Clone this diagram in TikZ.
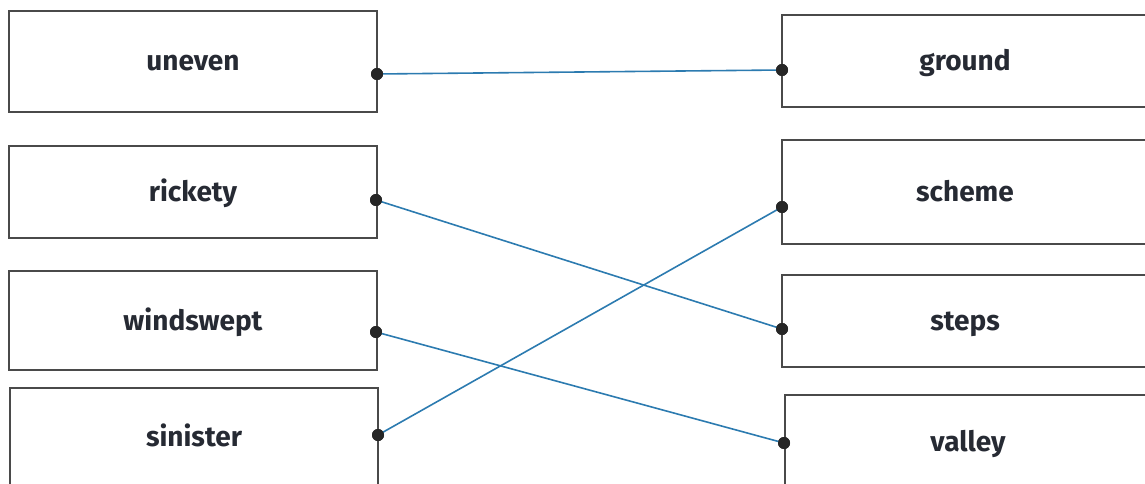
\documentclass[tikz,border=0pt]{standalone}
\usepackage{fontspec}
\setmainfont{Fira Sans}
\begin{document}
\begin{tikzpicture}[x=1pt,y=-1pt,
  word/.style={draw=boxgray,line width=2.4pt,fill=white,minimum width=368pt,inner sep=0pt,
    text height=23pt,text depth=4pt,
    font=\fontsize{28}{32}\selectfont\bfseries,text=textdark},
  dotnode/.style={circle,fill=black!85,inner sep=0pt,minimum size=12pt},
  link/.style={draw=linkblue,line width=1.6pt}]
\definecolor{boxgray}{HTML}{4A4A4A}
\definecolor{linkblue}{HTML}{2C7BB0}
\definecolor{textdark}{HTML}{262A33}
\useasboundingbox (0,0) rectangle (1145,484);
\clip (0,0) rectangle (1145,484);
% left column
\node[word,minimum height=101pt] (uneven) at (193,61.5) {uneven};
\node[word,minimum height=92pt] (rickety) at (193,192) {rickety};
\node[word,minimum height=99pt] (windswept) at (193,320.5) {windswept};
\node[word,minimum height=98pt] (sinister) at (194,437) {sinister};
% right column
\node[word,minimum width=366pt,minimum height=92pt] (ground) at (965,61) {ground};
\node[word,minimum width=366pt,minimum height=104pt] (scheme) at (965,192) {scheme};
\node[word,minimum width=366pt,minimum height=92pt] (steps) at (965,321) {steps};
\node[word,minimum width=366pt,minimum height=94pt] (valley) at (968,442) {valley};
% dots
\node[dotnode] (p1) at (377,74) {};
\node[dotnode] (p2) at (376,200) {};
\node[dotnode] (p3) at (376,332) {};
\node[dotnode] (p4) at (378,435) {};
\node[dotnode] (q1) at (782,70) {};
\node[dotnode] (q2) at (782,207) {};
\node[dotnode] (q3) at (782,329) {};
\node[dotnode] (q4) at (784,443) {};
% connectors
\draw[link] (p1.center) -- (q1.center);
\draw[link] (p2.center) -- (q3.center);
\draw[link] (p3.center) -- (q4.center);
\draw[link] (p4.center) -- (q2.center);
\foreach \d in {p1,p2,p3,p4,q1,q2,q3,q4} \fill[black!85] (\d) circle (6pt);
\end{tikzpicture}
\end{document}
